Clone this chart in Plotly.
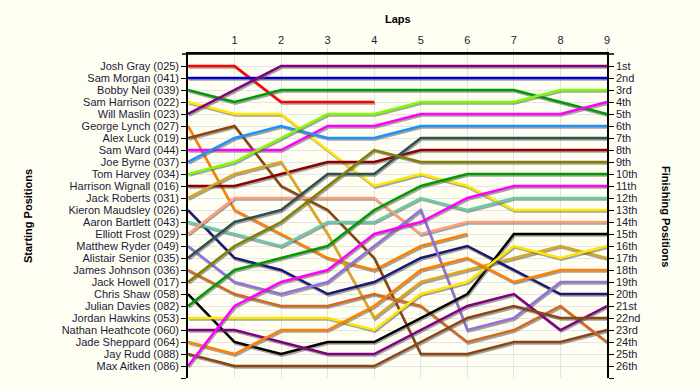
import plotly.graph_objects as go

laps = [0, 1, 2, 3, 4, 5, 6, 7, 8, 9]
lap_ticks = [1, 2, 3, 4, 5, 6, 7, 8, 9]

riders = [
    "Josh Gray (025)", "Sam Morgan (041)", "Bobby Neil (039)", "Sam Harrison (022)",
    "Will Maslin (023)", "George Lynch (027)", "Alex Luck (019)", "Sam Ward (044)",
    "Joe Byrne (037)", "Tom Harvey (034)", "Harrison Wignall (016)", "Jack Roberts (031)",
    "Kieron Maudsley (026)", "Aaron Bartlett (043)", "Elliott Frost (029)",
    "Matthew Ryder (049)", "Alistair Senior (035)", "James Johnson (036)",
    "Jack Howell (017)", "Chris Shaw (058)", "Julian Davies (082)",
    "Jordan Hawkins (053)", "Nathan Heathcote (060)", "Jade Sheppard (064)",
    "Jay Rudd (088)", "Max Aitken (086)",
]

finishing_labels = [
    "1st", "2nd", "3rd", "4th", "5th", "6th", "7th", "8th", "9th", "10th",
    "11th", "12th", "13th", "14th", "15th", "16th", "17th", "18th", "19th", "20th",
    "21st", "22nd", "23rd", "24th", "25th", "26th",
]

# positions per lap (lap 0 = starting position)
josh_gray = [1, 1, 4, 4, 4, None, None, None, None, None]
sam_morgan = [2, 2, 2, 2, 2, 2, 2, 2, 2, 2]
bobby_neil = [3, 4, 3, 3, 3, 3, 3, 3, 4, 5]
sam_harrison = [4, 5, 5, 8, 11, 10, 11, 13, 13, 13]
will_maslin = [5, 3, 1, 1, 1, 1, 1, 1, 1, 1]
george_lynch = [6, 13, 15, 17, 18, 16, 15, None, None, None]
alex_luck = [7, 6, 11, 13, 17, 25, 25, 24, 24, 23]
sam_ward = [8, 8, 8, 6, 6, 5, 5, 5, 5, 4]
joe_byrne = [9, 7, 6, 7, 7, 6, 6, 6, 6, 6]
tom_harvey = [10, 9, 7, 5, 5, 4, 4, 4, 3, 3]
harrison_wignall = [11, 11, 10, 9, 9, 8, 8, 8, 8, 8]
jack_roberts = [12, 10, 9, 15, 22, 19, 18, 17, 16, 17]
kieron_maudsley = [13, 17, 18, 20, 19, 17, 16, 18, 20, 20]
aaron_bartlett = [14, 15, 16, 14, 14, 12, 13, 12, 12, 12]
elliott_frost = [15, 12, 12, 12, 12, 15, 14, 14, 14, 14]
matthew_ryder = [16, 19, 20, 19, 16, 13, 23, 22, 19, 19]
alistair_senior = [17, 14, 13, 10, 10, 7, 7, 7, 7, 7]
james_johnson = [18, 20, 21, 21, 20, 21, 24, 23, 21, 24]
jack_howell = [19, 16, 14, 11, 8, 9, 9, 9, 9, 9]
chris_shaw = [20, 24, 25, 24, 24, 22, 20, 15, 15, 15]
julian_davies = [21, 18, 17, 16, 13, 11, 10, 10, 10, 10]
jordan_hawkins = [22, 22, 22, 22, 23, 20, 19, 16, 17, 16]
nathan_heathcote = [23, 23, 24, 25, 25, 23, 21, 20, 23, 21]
jade_sheppard = [24, 25, 23, 23, 21, 18, 17, 19, 18, 18]
jay_rudd = [25, 26, 26, 26, 26, 24, 22, 21, 22, 22]
max_aitken = [26, 21, 19, 18, 15, 14, 12, 11, 11, 11]

series = [
    josh_gray, sam_morgan, bobby_neil, sam_harrison, will_maslin, george_lynch,
    alex_luck, sam_ward, joe_byrne, tom_harvey, harrison_wignall, jack_roberts,
    kieron_maudsley, aaron_bartlett, elliott_frost, matthew_ryder, alistair_senior,
    james_johnson, jack_howell, chris_shaw, julian_davies, jordan_hawkins,
    nathan_heathcote, jade_sheppard, jay_rudd, max_aitken,
]

colors = [
    "#FF0000", "#0000CD", "#009A00", "#FFE600", "#800080", "#FF8000",
    "#8B4513", "#FF00FF", "#1E90FF", "#7CFC00", "#8B0000", "#DAA520",
    "#191970", "#66CDAA", "#FFA07A", "#9370DB", "#2F4F4F", "#D2691E",
    "#808000", "#000000", "#009A00", "#FFE600", "#800080", "#FF8000",
    "#8B4513", "#FF00FF",
]

W, H = 700, 390
ML, MR, MT, MB = 188, 93, 54, 12
plot_w = W - ML - MR
plot_h = H - MT - MB
y_lo, y_hi = 0, 27
x_lo, x_hi = 0, 9
px_x = (x_hi - x_lo) / plot_w
px_y = (y_hi - y_lo) / plot_h
sh_dx, sh_dy = 1.0 * px_x, 1.6 * px_y

fig = go.Figure()
for name, vals, col in zip(riders, series, colors):
    sx = [l + sh_dx for l in laps]
    sy = [None if v is None else v + sh_dy for v in vals]
    fig.add_trace(go.Scatter(x=sx, y=sy, mode="lines",
                             line=dict(color="rgba(90,90,90,0.55)", width=2.5),
                             hoverinfo="skip", showlegend=False))
    fig.add_trace(go.Scatter(x=laps, y=vals, mode="lines", name=name,
                             line=dict(color=col, width=2.5), showlegend=False))

# invisible trace to carry the right-hand axis
final = [s[-1] for s in series if s[-1] is not None]
fig.add_trace(go.Scatter(x=[laps[-1]] * len(final), y=final, yaxis="y2",
                         mode="markers", marker=dict(opacity=0), hoverinfo="skip",
                         showlegend=False))

font_fam = "Liberation Sans, Arial, sans-serif"
tick_col = "#1a1a3c"
grid_col = "#E4E4E4"

fig.update_layout(
    width=W, height=H,
    margin=dict(l=ML, r=MR, t=MT, b=MB, autoexpand=False),
    paper_bgcolor="#FFFEF3",
    plot_bgcolor="#FFFEF3",
    font=dict(family=font_fam, size=11, color=tick_col),
    showlegend=False,
    xaxis=dict(
        range=[x_lo, x_hi], side="top", tickvals=lap_ticks,
        ticktext=[str(t) for t in lap_ticks],
        showgrid=True, gridcolor=grid_col, gridwidth=1,
        showline=True, linecolor="#000000", linewidth=1.5,
        ticks="outside", ticklen=4, tickcolor="#D8D8D8",
        tickfont=dict(size=11, color=tick_col), zeroline=False,
    ),
    yaxis=dict(
        range=[y_hi, y_lo], tickvals=list(range(1, 28)),
        ticktext=riders + [""],
        showgrid=True, gridcolor=grid_col, gridwidth=1,
        showline=True, linecolor="#000000", linewidth=1.5,
        ticks="outside", ticklen=5, tickcolor="#000000",
        tickfont=dict(size=11, color=tick_col), zeroline=False,
    ),
    yaxis2=dict(
        range=[y_hi, y_lo], overlaying="y", side="right", anchor="x",
        tickvals=list(range(1, 28)), ticktext=finishing_labels + [""],
        showgrid=False, showline=True, linecolor="#000000", linewidth=1.5,
        ticks="outside", ticklen=5, tickcolor="#000000",
        tickfont=dict(size=11, color=tick_col), zeroline=False,
    ),
    annotations=[
        dict(text="<b>Laps</b>", xref="paper", yref="paper", x=0.5, y=1,
             xanchor="center", yanchor="middle", yshift=35, showarrow=False,
             font=dict(size=11, color="#000000")),
        dict(text="<b>Starting Positions</b>", xref="paper", yref="paper",
             x=0, y=0.5, xanchor="center", yanchor="middle", xshift=-160,
             textangle=-90, showarrow=False, font=dict(size=11, color="#000000")),
        dict(text="<b>Finishing Positions</b>", xref="paper", yref="paper",
             x=1, y=0.5, xanchor="center", yanchor="middle", xshift=59,
             textangle=90, showarrow=False, font=dict(size=11, color="#000000")),
    ],
    shapes=[
        dict(type="line", xref="paper", yref="paper",
             x0=-6 / plot_w, x1=1 + 7 / plot_w, y0=1, y1=1,
             line=dict(color="#000000", width=1.5)),
    ],
)

fig.write_html(
    "out.html",
    config={"displayModeBar": False},
    post_script="document.body.style.margin='0';document.body.style.overflow='hidden';",
)
